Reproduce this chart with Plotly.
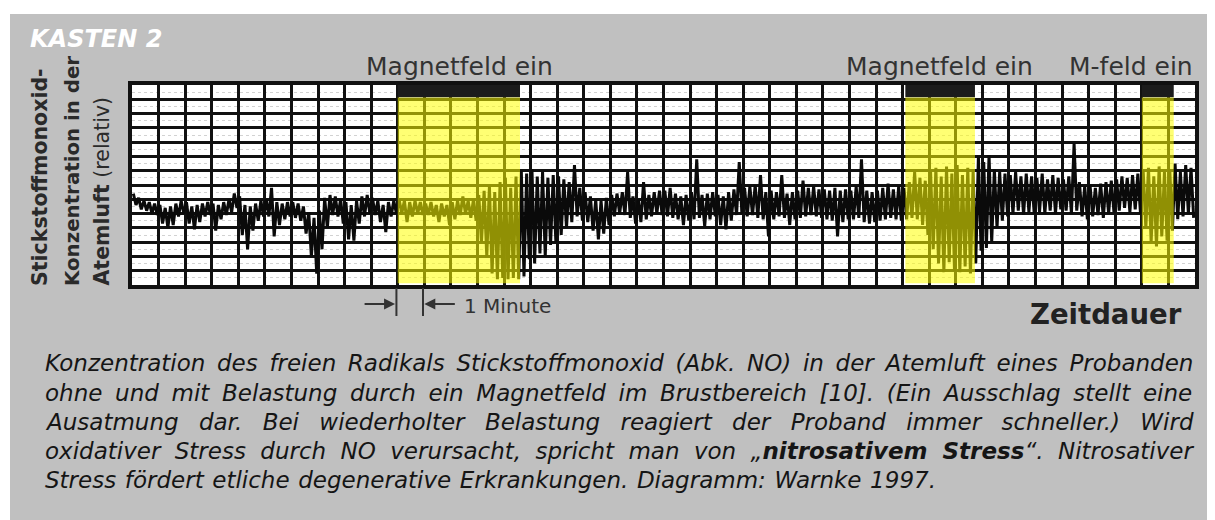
import numpy as np
import plotly.graph_objects as go

# ---------------- data ----------------
# NO level in grid units (0 = bottom line, 14 = top line), sampled every 0.1 min,
# alternating peak / trough values of the breath trace; one row per minute
no_trace = [
    6.4,5.6, 6.1,5.3, 5.9,5.2, 5.8,5.0, 5.7,4.9,
    5.6,4.3, 5.4,4.0, 5.5,4.2, 5.7,4.8, 5.9,5.0,
    5.8,4.3, 5.5,3.9, 5.6,4.4, 5.7,4.8, 5.8,4.9,
    5.7,3.8, 5.6,4.6, 5.8,4.9, 6.0,5.1, 6.4,5.4,
    6.2,3.5, 5.6,2.5, 5.5,3.8, 5.7,4.5, 5.9,4.8,
    6.0,4.8, 6.8,3.4, 5.8,4.2, 5.7,4.6, 5.8,4.8,
    5.8,4.7, 5.7,4.5, 5.5,3.6, 5.1,2.0, 4.7,0.8,
    5.2,2.5, 6.1,4.0, 6.3,4.9, 6.2,4.8, 6.0,4.3,
    5.8,3.2, 5.6,3.1, 5.9,4.3, 6.2,4.8, 6.3,5.0,
    6.1,4.9, 5.9,4.4, 5.6,3.7, 5.8,4.8, 5.9,5.0,
    6.0,5.0, 5.9,4.4, 5.8,4.8, 5.9,5.0, 5.8,4.9,
    5.7,4.9, 5.8,4.8, 5.6,4.4, 5.7,4.8, 5.6,4.2,
    5.8,4.6, 5.9,4.9, 6.2,5.0, 5.9,4.7, 6.0,4.5,
    6.3,3.0, 6.6,2.0, 6.9,0.8, 6.5,0.4, 7.2,0.5,
    7.5,0.4, 6.8,0.5, 7.6,0.4, 8.0,0.6, 7.8,1.8,
    8.1,1.5, 7.6,2.2, 7.9,2.0, 7.5,2.8, 7.7,3.0,
    7.6,3.5, 7.4,4.0, 7.2,4.4, 8.4,4.8, 6.8,4.5,
    6.5,4.4, 6.2,3.8, 6.0,3.2, 5.9,3.6, 6.1,4.2,
    6.3,4.8, 6.4,5.0, 6.5,4.9, 7.9,4.7, 6.2,4.3,
    6.0,4.4, 7.2,4.6, 6.3,4.8, 6.5,5.0, 6.6,4.9,
    6.6,4.8, 6.8,4.7, 6.4,4.6, 6.2,4.2, 6.3,4.5,
    6.5,4.6, 8.8,4.7, 6.3,4.1, 6.4,4.6, 6.5,4.8,
    6.3,4.2, 6.2,3.9, 6.5,4.5, 6.7,4.9, 8.6,5.0,
    6.8,4.8, 6.9,4.9, 7.0,4.7, 7.7,4.6, 6.5,3.4,
    6.6,4.6, 6.5,4.8, 7.7,4.7, 6.4,4.2, 6.5,4.6,
    6.6,4.7, 7.3,4.8, 6.8,4.9, 6.9,4.8, 6.7,4.7,
    6.7,4.6, 6.6,4.5, 6.8,3.4, 6.6,4.4, 6.7,4.6,
    6.6,4.6, 6.9,4.7, 8.8,4.4, 6.6,4.3, 6.5,4.4,
    6.6,4.5, 6.8,4.6, 7.1,4.7, 6.7,4.6, 6.9,4.5,
    6.8,4.6, 7.2,4.7, 7.9,4.6, 7.5,4.2, 7.3,3.5,
    7.9,2.5, 8.2,1.5, 7.6,0.9, 8.3,1.6, 7.8,1.0,
    8.4,0.9, 7.7,1.3, 8.2,0.8, 7.9,1.5, 9.0,2.4,
    8.6,2.6, 9.1,3.0, 8.1,4.0, 7.9,4.5, 7.8,4.8,
    7.7,5.0, 7.9,5.2, 7.6,4.9, 7.8,5.1, 7.6,5.0,
    7.5,5.1, 7.8,5.0, 7.4,5.2, 7.7,5.0, 7.5,5.3,
    7.4,5.2, 7.6,5.0, 9.9,5.2, 7.2,4.8, 6.9,4.6,
    7.0,4.8, 6.8,4.9, 7.1,4.7, 7.2,5.0, 7.3,5.1,
    7.4,5.2, 7.6,5.4, 7.5,5.1, 7.7,5.3, 7.8,5.0,
    8.0,4.0, 8.2,3.0, 7.6,2.7, 8.3,3.4, 7.9,3.1,
    8.1,3.8, 8.5,4.6, 7.9,4.8, 8.4,5.0, 8.2,4.7,
]
sample_step_min = 0.1

# magnetic field exposure intervals (minutes)
field_on_start = [10.0, 29.1, 38.0]
field_on_end = [14.6, 31.72, 39.2]
field_labels = ["Magnetfeld ein", "Magnetfeld ein", "M-feld ein"]
field_label_x = [12.34, 30.37, 37.59]

caption_lines = [
    "Konzentration des freien Radikals Stickstoffmonoxid (Abk. NO) in der Atemluft eines Probanden",
    "ohne und mit Belastung durch ein Magnetfeld im Brustbereich [10]. (Ein Ausschlag stellt eine",
    "Ausatmung dar. Bei wiederholter Belastung reagiert der Proband immer schneller.) Wird",
    "oxidativer Stress durch NO verursacht, spricht man von „<b>nitrosativem Stress</b>“. Nitrosativer",
    "Stress fördert etliche degenerative Erkrankungen. Diagramm: Warnke 1997.",
]
caption_word_spacing = [4.35, 5.4, 13.05, 7.05, 1.3]

# ---------------- figure ----------------
OFF = 8                      # page body margin of the html page
W, H = 1215 - OFF, 520 - OFF
L, R, T, B = 132 - OFF, 20, 85 - OFF, 235
PW, PH = W - L - R, H - T - B


def px_x(px):
    """page pixel x -> paper x"""
    return (px - OFF - L) / PW


def px_y(py):
    """page pixel y -> paper y"""
    return (H - B - (py - OFF)) / PH


t = np.arange(len(no_trace)) * sample_step_min + 0.05

fig = go.Figure()
fig.add_trace(go.Scatter(
    x=t, y=no_trace, mode="lines",
    line=dict(color="#0a0a0a", width=3.0),
    hoverinfo="skip", showlegend=False,
))

shapes = []
# white margins around the grey box
shapes.append(dict(type="rect", xref="paper", yref="paper", layer="below",
                   x0=px_x(0), x1=px_x(10), y0=px_y(H + OFF), y1=px_y(0),
                   fillcolor="white", line=dict(width=0)))
shapes.append(dict(type="rect", xref="paper", yref="paper", layer="below",
                   x0=px_x(0), x1=px_x(1215), y0=px_y(14), y1=px_y(0),
                   fillcolor="white", line=dict(width=0)))
# yellow field-on overlays and black bars
for s, e in zip(field_on_start, field_on_end):
    shapes.append(dict(type="rect", xref="x", yref="y", layer="above",
                       x0=s, x1=e, y0=0.12, y1=13.15,
                       fillcolor="rgba(255,255,0,0.55)", line=dict(width=0)))
    shapes.append(dict(type="rect", xref="x", yref="y", layer="above",
                       x0=s, x1=e, y0=13.15, y1=14,
                       fillcolor="#1c1c1c", line=dict(width=0)))
# 1-minute scale markers
for xm in [9.95, 10.95]:
    shapes.append(dict(type="line", xref="x", yref="paper",
                       x0=xm, x1=xm, y0=px_y(288), y1=px_y(316),
                       line=dict(color="#333", width=2)))

annotations = []
for lx, lab in zip(field_label_x, field_labels):
    annotations.append(dict(x=lx, y=px_y(66), xref="x", yref="paper",
                            text=lab, showarrow=False, xanchor="center", yanchor="middle",
                            font=dict(family="DejaVu Sans", size=25, color="#333")))

annotations.append(dict(x=px_x(28), y=px_y(39), xref="paper", yref="paper",
                        text="<b><i>KASTEN 2</i></b>", showarrow=False,
                        xanchor="left", yanchor="middle",
                        font=dict(family="DejaVu Sans", size=24, color="white")))

ytitle = [("<b>Stickstoffmonoxid-</b>", 40, 20.5),
          ("<b>Konzentration in der</b>", 72, 19.8),
          ("<b>Atemluft</b> (relativ)", 101, 20.5)]
for txt, cx, fs in ytitle:
    annotations.append(dict(x=px_x(cx), y=px_y(288), xref="paper", yref="paper",
                            text=txt, showarrow=False, textangle=-90,
                            xanchor="center", yanchor="bottom",
                            font=dict(family="DejaVu Sans", size=fs, color="#2a2a2a")))

# arrows of the 1-minute marker
annotations.append(dict(x=9.9, y=px_y(304), xref="x", yref="paper", text="",
                        showarrow=True, ax=-32, ay=0, arrowhead=2, arrowsize=1.1,
                        arrowwidth=2, arrowcolor="#333"))
annotations.append(dict(x=11.0, y=px_y(304), xref="x", yref="paper", text="",
                        showarrow=True, ax=32, ay=0, arrowhead=2, arrowsize=1.1,
                        arrowwidth=2, arrowcolor="#333"))
annotations.append(dict(x=12.42, y=px_y(306), xref="x", yref="paper",
                        text="1 Minute", showarrow=False, xanchor="left", yanchor="middle",
                        font=dict(family="DejaVu Sans", size=20, color="#333")))
annotations.append(dict(x=px_x(1184), y=px_y(314), xref="paper", yref="paper",
                        text="<b>Zeitdauer</b>", showarrow=False, xanchor="right", yanchor="middle",
                        font=dict(family="DejaVu Sans", size=27.5, color="#222")))

cap_y = [363, 392.5, 422, 451, 480]
for line, ws, cy in zip(caption_lines, caption_word_spacing, cap_y):
    txt = f'<span style="word-spacing:{ws}px"><i>{line}</i></span>'
    annotations.append(dict(x=px_x(43), y=px_y(cy), xref="paper", yref="paper",
                            text=txt, showarrow=False, xanchor="left", yanchor="middle",
                            font=dict(family="DejaVu Sans", size=23, color="#151515")))

axis_common = dict(showgrid=True, gridcolor="#111", gridwidth=2.7,
                   showline=True, mirror=True, linecolor="#111", linewidth=4,
                   showticklabels=False, ticks="", zeroline=False, fixedrange=True)

fig.update_layout(
    width=W, height=H,
    margin=dict(l=L, r=R, t=T, b=B, pad=0),
    paper_bgcolor="#c0c0c0", plot_bgcolor="white",
    xaxis=dict(range=[0, 40], dtick=1, tick0=0, **axis_common),
    yaxis=dict(range=[0, 14], dtick=1, tick0=0,
               minor=dict(dtick=0.5, showgrid=True, gridcolor="#d2d2d2",
                          gridwidth=1, griddash="dot"),
               **axis_common),
    shapes=shapes, annotations=annotations, showlegend=False,
)

fig.write_html("out.html")
